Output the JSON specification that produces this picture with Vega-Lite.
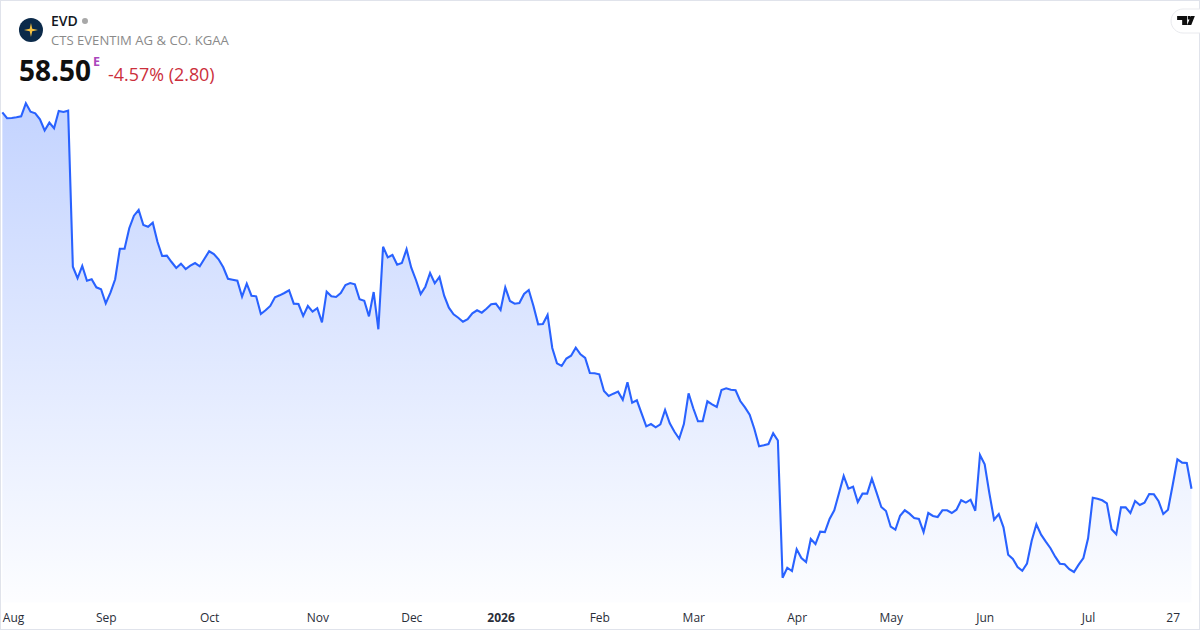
{"$schema":"https://vega.github.io/schema/vega-lite/v6.json","width":1200,"height":630,"padding":0,"autosize":{"type":"none"},"background":"#ffffff","view":{"stroke":"#e0e3eb","strokeWidth":2},"config":{"font":"Open Sans"},
"data":{"values":[{"session":0,"price":99.53},{"session":1,"price":98.88},{"session":2,"price":98.91},{"session":3,"price":98.98},{"session":4,"price":99.09},{"session":5,"price":100.51},{"session":6,"price":99.59},{"session":7,"price":99.42},{"session":8,"price":98.77},{"session":9,"price":97.55},{"session":10,"price":98.40},{"session":11,"price":97.79},{"session":12,"price":99.67},{"session":13,"price":99.56},{"session":14,"price":99.70},{"session":15,"price":82.70},{"session":16,"price":81.44},{"session":17,"price":82.78},{"session":18,"price":81.17},{"session":19,"price":81.33},{"session":20,"price":80.45},{"session":21,"price":80.24},{"session":22,"price":78.71},{"session":23,"price":79.87},{"session":24,"price":81.33},{"session":25,"price":84.66},{"session":26,"price":84.66},{"session":27,"price":86.89},{"session":28,"price":88.26},{"session":29,"price":88.88},{"session":30,"price":87.25},{"session":31,"price":87.06},{"session":32,"price":87.50},{"session":33,"price":85.42},{"session":34,"price":83.87},{"session":35,"price":83.90},{"session":36,"price":83.21},{"session":37,"price":82.56},{"session":38,"price":83.03},{"session":39,"price":82.45},{"session":40,"price":82.81},{"session":41,"price":83.10},{"session":42,"price":82.74},{"session":43,"price":83.57},{"session":44,"price":84.38},{"session":45,"price":84.08},{"session":46,"price":83.51},{"session":47,"price":82.63},{"session":48,"price":81.39},{"session":49,"price":81.28},{"session":50,"price":81.17},{"session":51,"price":79.43},{"session":52,"price":80.85},{"session":53,"price":79.54},{"session":54,"price":79.47},{"session":55,"price":77.54},{"session":56,"price":77.95},{"session":57,"price":78.42},{"session":58,"price":79.36},{"session":59,"price":79.58},{"session":60,"price":79.83},{"session":61,"price":80.13},{"session":62,"price":78.67},{"session":63,"price":78.63},{"session":64,"price":77.33},{"session":65,"price":78.42},{"session":66,"price":77.80},{"session":67,"price":78.17},{"session":68,"price":76.64},{"session":69,"price":79.98},{"session":70,"price":79.47},{"session":71,"price":79.40},{"session":72,"price":79.83},{"session":73,"price":80.70},{"session":74,"price":80.92},{"session":75,"price":80.78},{"session":76,"price":79.15},{"session":77,"price":78.99},{"session":78,"price":77.29},{"session":79,"price":79.94},{"session":80,"price":75.88},{"session":81,"price":84.88},{"session":82,"price":83.72},{"session":83,"price":83.98},{"session":84,"price":82.92},{"session":85,"price":83.10},{"session":86,"price":84.60},{"session":87,"price":82.59},{"session":88,"price":81.25},{"session":89,"price":79.72},{"session":90,"price":80.52},{"session":91,"price":82.01},{"session":92,"price":80.89},{"session":93,"price":81.58},{"session":94,"price":79.54},{"session":95,"price":78.23},{"session":96,"price":77.51},{"session":97,"price":77.14},{"session":98,"price":76.70},{"session":99,"price":76.97},{"session":100,"price":77.62},{"session":101,"price":77.95},{"session":102,"price":77.69},{"session":103,"price":78.12},{"session":104,"price":78.60},{"session":105,"price":78.67},{"session":106,"price":77.98},{"session":107,"price":80.45},{"session":108,"price":78.96},{"session":109,"price":78.67},{"session":110,"price":78.74},{"session":111,"price":79.72},{"session":112,"price":80.16},{"session":113,"price":78.42},{"session":114,"price":76.42},{"session":115,"price":76.45},{"session":116,"price":77.44},{"session":117,"price":73.84},{"session":118,"price":72.17},{"session":119,"price":71.88},{"session":120,"price":72.69},{"session":121,"price":72.99},{"session":122,"price":73.87},{"session":123,"price":73.15},{"session":124,"price":72.75},{"session":125,"price":71.11},{"session":126,"price":71.08},{"session":127,"price":70.97},{"session":128,"price":69.15},{"session":129,"price":68.61},{"session":130,"price":68.86},{"session":131,"price":69.08},{"session":132,"price":68.20},{"session":133,"price":70.10},{"session":134,"price":67.88},{"session":135,"price":68.14},{"session":136,"price":66.72},{"session":137,"price":65.30},{"session":138,"price":65.55},{"session":139,"price":65.19},{"session":140,"price":65.52},{"session":141,"price":67.08},{"session":142,"price":65.63},{"session":143,"price":64.71},{"session":144,"price":63.95},{"session":145,"price":65.55},{"session":146,"price":68.90},{"session":147,"price":67.27},{"session":148,"price":65.85},{"session":149,"price":65.85},{"session":150,"price":68.03},{"session":151,"price":67.70},{"session":152,"price":67.41},{"session":153,"price":69.26},{"session":154,"price":69.45},{"session":155,"price":69.29},{"session":156,"price":69.23},{"session":157,"price":68.06},{"session":158,"price":67.37},{"session":159,"price":66.57},{"session":160,"price":65.01},{"session":161,"price":63.12},{"session":162,"price":63.23},{"session":163,"price":63.37},{"session":164,"price":64.54},{"session":165,"price":63.76},{"session":166,"price":48.80},{"session":167,"price":49.89},{"session":168,"price":49.53},{"session":169,"price":51.90},{"session":170,"price":50.95},{"session":171,"price":50.51},{"session":172,"price":53.02},{"session":173,"price":52.47},{"session":174,"price":53.82},{"session":175,"price":53.78},{"session":176,"price":55.20},{"session":177,"price":56.15},{"session":178,"price":58.00},{"session":179,"price":59.89},{"session":180,"price":58.50},{"session":181,"price":58.72},{"session":182,"price":57.05},{"session":183,"price":57.96},{"session":184,"price":57.96},{"session":185,"price":59.59},{"session":186,"price":58.07},{"session":187,"price":56.51},{"session":188,"price":56.07},{"session":189,"price":54.36},{"session":190,"price":54.03},{"session":191,"price":55.56},{"session":192,"price":56.15},{"session":193,"price":55.78},{"session":194,"price":55.31},{"session":195,"price":55.20},{"session":196,"price":53.78},{"session":197,"price":55.85},{"session":198,"price":55.53},{"session":199,"price":55.42},{"session":200,"price":56.15},{"session":201,"price":56.15},{"session":202,"price":55.85},{"session":203,"price":56.21},{"session":204,"price":57.24},{"session":205,"price":56.98},{"session":206,"price":57.30},{"session":207,"price":56.10},{"session":208,"price":62.18},{"session":209,"price":61.16},{"session":210,"price":58.00},{"session":211,"price":55.12},{"session":212,"price":55.74},{"session":213,"price":54.29},{"session":214,"price":51.31},{"session":215,"price":50.84},{"session":216,"price":49.97},{"session":217,"price":49.56},{"session":218,"price":50.33},{"session":219,"price":52.83},{"session":220,"price":54.62},{"session":221,"price":53.49},{"session":222,"price":52.73},{"session":223,"price":52.01},{"session":224,"price":51.09},{"session":225,"price":50.33},{"session":226,"price":50.26},{"session":227,"price":49.72},{"session":228,"price":49.42},{"session":229,"price":50.22},{"session":230,"price":50.95},{"session":231,"price":53.10},{"session":232,"price":57.52},{"session":233,"price":57.41},{"session":234,"price":57.24},{"session":235,"price":56.91},{"session":236,"price":54.08},{"session":237,"price":53.53},{"session":238,"price":56.47},{"session":239,"price":56.47},{"session":240,"price":55.85},{"session":241,"price":57.16},{"session":242,"price":56.73},{"session":243,"price":56.98},{"session":244,"price":57.92},{"session":245,"price":57.89},{"session":246,"price":57.13},{"session":247,"price":55.74},{"session":248,"price":56.21},{"session":249,"price":58.91},{"session":250,"price":61.71},{"session":251,"price":61.34},{"session":252,"price":61.30},{"session":253,"price":58.50}]},
"layer":[
{"mark":{"type":"area","color":{"gradient":"linear","x1":0,"y1":0,"x2":0,"y2":1,"stops":[{"offset":0,"color":"rgba(41,98,255,0.28)"},{"offset":1,"color":"rgba(41,98,255,0.01)"}]}},
 "encoding":{"x":{"field":"session","type":"quantitative","scale":{"domain":[-0.5,254.81],"nice":false,"zero":false},
   "axis":{"title":null,"grid":false,"domain":false,"ticks":false,"orient":"bottom","offset":-20,"labelPadding":2,"labelFont":"Open Sans","labelFontSize":12,"labelColor":"#2a2e39","labelBound":false,"labelFlush":false,"labelOverlap":false,
     "values":[0,22,44,67,87,106,127,147,169,189,209,231,249],
     "labelExpr":"{'0':'Aug','22':'Sep','44':'Oct','67':'Nov','87':'Dec','106':'2026','127':'Feb','147':'Mar','169':'Apr','189':'May','209':'Jun','231':'Jul','249':'27'}[''+datum.value]",
     "labelAlign":{"condition":{"test":"datum.value==0","value":"left"},"value":"center"},
     "labelFontWeight":{"condition":{"test":"datum.value==106","value":"bold"},"value":"normal"}}},
  "y":{"field":"price","type":"quantitative","scale":{"domain":[43.1,111.77],"nice":false,"zero":false},"axis":null},
  "y2":{"datum":46.1}}},
{"mark":{"type":"line","color":"#2962ff","strokeWidth":2.1},
 "encoding":{"x":{"field":"session","type":"quantitative"},"y":{"field":"price","type":"quantitative"}}},
{"data":{"values":[{"label":"logo"}]},"mark":{"type":"point","shape":"circle","filled":true,"color":"#0b2a4a","size":576,"opacity":1},"encoding":{"x":{"datum":6.09,"type":"quantitative"},"y":{"datum":108.5,"type":"quantitative"}}},
{"data":{"values":[{"label":"star"}]},"mark":{"type":"point","shape":"M0,-1 L0.18,-0.18 L1,0 L0.18,0.18 L0,1 L-0.18,0.18 L-1,0 L-0.18,-0.18 Z","filled":true,"color":"#f5c242","size":196,"opacity":1},"encoding":{"x":{"datum":6.09,"type":"quantitative"},"y":{"datum":108.5,"type":"quantitative"}}},
{"data":{"values":[{"label":"EVD"}]},"mark":{"type":"text","font":"Open Sans","fontSize":14,"fontWeight":600,"color":"#131722","align":"left","baseline":"alphabetic"},"encoding":{"x":{"datum":10.35,"type":"quantitative"},"y":{"datum":108.94,"type":"quantitative"},"text":{"field":"label"}}},
{"data":{"values":[{"label":"status"}]},"mark":{"type":"point","shape":"circle","filled":true,"color":"#a8a8a8","size":36,"opacity":1},"encoding":{"x":{"datum":17.58,"type":"quantitative"},"y":{"datum":109.48,"type":"quantitative"}}},
{"data":{"values":[{"label":"CTS EVENTIM AG & CO. KGAA"}]},"mark":{"type":"text","font":"Open Sans","fontSize":13.1,"color":"#8a8a8a","align":"left","baseline":"alphabetic"},"encoding":{"x":{"datum":10.35,"type":"quantitative"},"y":{"datum":106.87,"type":"quantitative"},"text":{"field":"label"}}},
{"data":{"values":[{"label":"58.50"}]},"mark":{"type":"text","font":"Open Sans","fontSize":28,"fontWeight":700,"color":"#0f0f0f","align":"left","baseline":"alphabetic"},"encoding":{"x":{"datum":3.54,"type":"quantitative"},"y":{"datum":102.94,"type":"quantitative"},"text":{"field":"label"}}},
{"data":{"values":[{"label":"E"}]},"mark":{"type":"text","font":"Open Sans","fontSize":12.5,"fontWeight":700,"color":"#ab47bc","align":"left","baseline":"alphabetic"},"encoding":{"x":{"datum":19.28,"type":"quantitative"},"y":{"datum":104.58,"type":"quantitative"},"text":{"field":"label"}}},
{"data":{"values":[{"label":"-4.57% (2.80)"}]},"mark":{"type":"text","font":"Open Sans","fontSize":17.9,"color":"#cc2f3c","align":"left","baseline":"alphabetic"},"encoding":{"x":{"datum":22.5,"type":"quantitative"},"y":{"datum":102.94,"type":"quantitative"},"text":{"field":"label"}}},
{"data":{"values":[{"label":"badge"}]},"mark":{"type":"rect","color":"#ffffff","stroke":"#e9eaee","strokeWidth":1,"cornerRadius":12},"encoding":{"x":{"datum":248.65,"type":"quantitative"},"x2":{"datum":260},"y":{"datum":110.79,"type":"quantitative"},"y2":{"datum":108.17}}},
{"data":{"values":[{"label":"tv"}]},"mark":{"type":"point","shape":"M-0.97,-0.5 L0.14,-0.5 L0.14,0.5 L-0.41,0.5 L-0.41,-0.05 L-0.97,-0.05 Z M0.22,-0.5 L0.52,-0.5 L0.52,-0.1 L0.22,-0.1 Z M0.58,-0.5 L1,-0.5 L0.6,0.5 L0.14,0.5 Z","filled":true,"color":"#0f0f0f","size":324,"opacity":1},"encoding":{"x":{"datum":251.8,"type":"quantitative"},"y":{"datum":109.54,"type":"quantitative"}}}
]}
